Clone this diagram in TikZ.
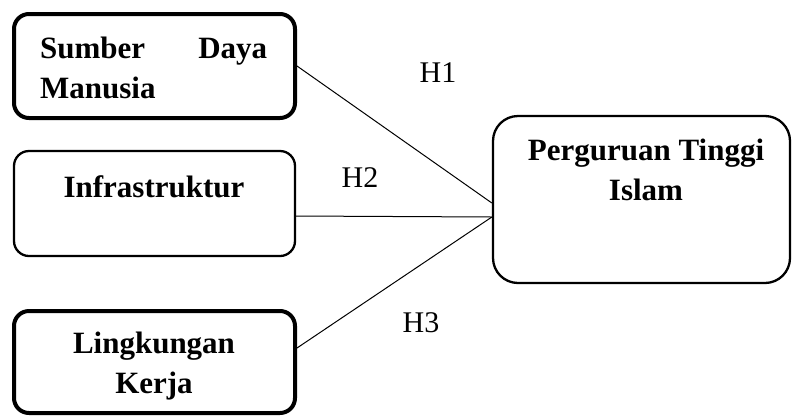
\documentclass[tikz,border=0pt]{standalone}
\usepackage{fontspec}
\setmainfont{Liberation Serif}
\usepackage{tikz}
\usetikzlibrary{calc}
\usetikzlibrary{positioning}

\begin{document}
\begin{tikzpicture}
		[
		x=1pt, y=-1pt,
		font=\fontsize{31}{40}\selectfont,
		link/.style={draw,line width=1pt}
		]
		
		% Two box styles: thick and plain
		\tikzstyle{thick box}=[draw,line width=4pt,rounded corners=15pt,inner sep=0pt];
		\tikzstyle{plain box}=[draw,line width=2.3pt,rounded corners=15pt,inner sep=0pt];
		\tikzstyle{box text}=[inner sep=0pt,font=\fontsize{31}{40}\selectfont\bfseries];
		\tikzstyle{hyp}=[inner sep=0pt,font=\fontsize{30}{36}\selectfont];
		
		\useasboundingbox (0,0) rectangle (792,416);
		
		% Variables
		\node[thick box, minimum width=281, minimum height=104](sdm) at (154.5,66){};
		\node[plain box, minimum width=281, minimum height=105](infra) at (154.5,203.5){};
		\node[thick box, minimum width=281, minimum height=102](kerja) at (154.5,362){};
		\node[plain box, minimum width=297, minimum height=167, rounded corners=25pt](pti) at (641.5,199.5){};
		
		% Texts of the boxes
		\node[box text, text width=227, align=justify, anchor=north west](sdm text) at (40,37){Sumber Daya Manusia};
		\node[box text, anchor=base](infra text) at (154,197){Infrastruktur};
		\node[box text, align=center, anchor=north](kerja text) at (154,332){Lingkungan\\Kerja};
		\node[box text, align=center, anchor=north](pti text) at (646,139){Perguruan Tinggi\\Islam};
		
		% Links
		\coordinate (sdm out) at (sdm.east);
		\coordinate (infra out) at ([yshift=-12.5]infra.east);
		\coordinate (kerja out) at ([yshift=14]kerja.east);
		\coordinate (pti in1) at ([yshift=-3.5]pti.west);
		\coordinate (pti in2) at ([yshift=-17.5]pti.west);
		\draw[link](sdm out)--(pti in1);
		\draw[link](infra out)--(pti in2);
		\draw[link](kerja out)--(pti in2);
		
		% Hypotheses
		\node[hyp](h1) at (438,73){H1};
		\node[hyp](h2) at (360,178){H2};
		\node[hyp](h3) at (421,323){H3};
		\end{tikzpicture}
\end{document}
